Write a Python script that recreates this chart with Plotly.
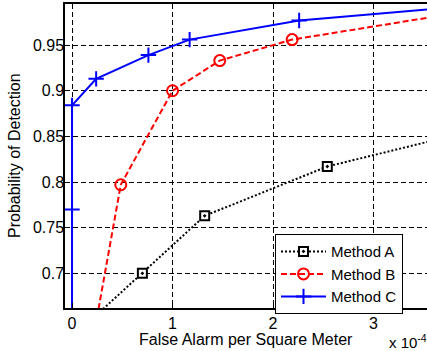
import plotly.graph_objects as go

# False alarm rate in units of 1e-4 per square meter
a_x = [0.25, 0.70, 1.32, 2.54, 4.5]
a_y = [0.655, 0.700, 0.763, 0.817, 0.870]

b_x = [0.20, 0.485, 1.00, 1.47, 2.19, 4.5]
b_y = [0.622, 0.797, 0.900, 0.933, 0.956, 0.997]

c_x = [0.0, 0.0, 0.0, 0.24, 0.76, 1.17, 2.26, 4.5]
c_y = [0.60, 0.770, 0.884, 0.913, 0.939, 0.956, 0.977, 0.998]

names = ["Method A", "Method B", "Method C"]

x_ticks = [0, 1, 2, 3]
y_ticks = [0.7, 0.75, 0.8, 0.85, 0.9, 0.95]
y_tick_text = ["0.7", "0.75", "0.8", "0.85", "0.9", "0.95"]

FONT = "Liberation Sans, Arial, sans-serif"

fig = go.Figure()
fig.add_trace(go.Scatter(
    x=a_x, y=a_y, name=names[0], mode="lines+markers",
    line=dict(color="black", width=2, dash="2px,2px"),
    marker=dict(symbol="square-dot", size=9, color="white",
                line=dict(color="black", width=2)),
))
fig.add_trace(go.Scatter(
    x=b_x, y=b_y, name=names[1], mode="lines+markers",
    line=dict(color="#ff0000", width=2, dash="6px,3px"),
    marker=dict(symbol="circle-open", size=11, color="#ff0000",
                line=dict(color="#ff0000", width=2)),
))
fig.add_trace(go.Scatter(
    x=c_x, y=c_y, name=names[2], mode="lines+markers",
    line=dict(color="#0000ff", width=2),
    marker=dict(symbol="cross-thin-open", size=11, color="#0000ff",
                line=dict(color="#0000ff", width=2)),
))

axis_common = dict(
    showline=True, linecolor="black", linewidth=1.5,
    ticks="inside", ticklen=5, tickcolor="black", tickwidth=1,
    showgrid=True, gridcolor="black", gridwidth=1, griddash="5px,3px",
    zeroline=False,
    tickfont=dict(family=FONT, size=16, color="black"),
)

fig.update_xaxes(range=[-0.07, 3.532], tickvals=x_ticks,
                 ticktext=[str(t) for t in x_ticks], mirror=True, **axis_common)
fig.update_yaxes(range=[0.662, 0.995], tickvals=y_ticks, ticktext=y_tick_text,
                 mirror=False, ticklabelstandoff=-4, **axis_common)

fig.update_layout(
    width=427, height=351,
    margin=dict(l=65, r=0, t=4, b=43),
    plot_bgcolor="white", paper_bgcolor="white",
    font=dict(family=FONT, size=16, color="black"),
    showlegend=True,
    legend=dict(
        x=(275 - 65) / 362, y=0.243, xanchor="left", yanchor="top",
        bgcolor="white", bordercolor="black", borderwidth=1,
        font=dict(family=FONT, size=15, color="black"),
        tracegroupgap=0, itemwidth=45,
    ),
    annotations=[
        dict(text="False Alarm per Square Meter", xref="paper", yref="paper",
             x=0.5, y=(308 - 339) / 304, xanchor="center", yanchor="middle",
             showarrow=False, font=dict(family=FONT, size=16)),
        dict(text="Probability of Detection", xref="paper", yref="paper",
             x=(14 - 65) / 362, y=0.5, xanchor="center", yanchor="middle",
             textangle=-90, showarrow=False, font=dict(family=FONT, size=16)),
        dict(text="x 10<sup>-4</sup>", xref="paper", yref="paper",
             x=(387 - 65) / 362, y=(308 - 341) / 304, xanchor="left", yanchor="middle",
             showarrow=False, font=dict(family=FONT, size=15)),
    ],
)

fig.write_html("out.html")
